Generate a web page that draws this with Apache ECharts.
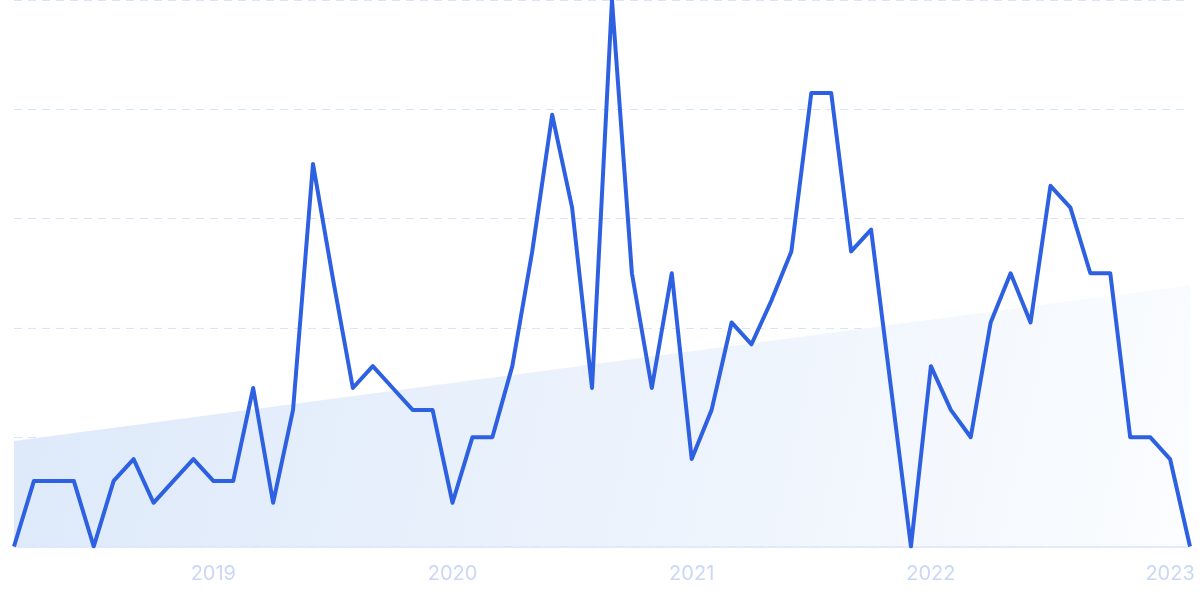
<!DOCTYPE html>
<html>
<head>
<meta charset="utf-8">
<script src="https://cdn.jsdelivr.net/npm/echarts@6/dist/echarts.min.js"></script>
<style>
html,body{margin:0;padding:0;background:#fff;}
#chart{width:1200px;height:599px;}
</style>
</head>
<body>
<div id="chart"></div>
<script>
// Months from 2018-03 to 2023-02
const months = [
  '2018-03','2018-04','2018-05','2018-06','2018-07','2018-08','2018-09','2018-10','2018-11','2018-12',
  '2019-01','2019-02','2019-03','2019-04','2019-05','2019-06','2019-07','2019-08','2019-09','2019-10','2019-11','2019-12',
  '2020-01','2020-02','2020-03','2020-04','2020-05','2020-06','2020-07','2020-08','2020-09','2020-10','2020-11','2020-12',
  '2021-01','2021-02','2021-03','2021-04','2021-05','2021-06','2021-07','2021-08','2021-09','2021-10','2021-11','2021-12',
  '2022-01','2022-02','2022-03','2022-04','2022-05','2022-06','2022-07','2022-08','2022-09','2022-10','2022-11','2022-12',
  '2023-01','2023-02'
];
const interest = [
  0,12,12,12,0,12,16,8,12,16,
  12,12,29,8,25,70,49,29,33,29,25,25,
  8,20,20,33,54,79,62,29,100,50,29,50,
  16,25,41,37,45,54,83,83,54,58,29,0,
  33,25,20,41,50,41,66,62,50,50,20,20,
  16,0
];
// Trend area end values (start and end of series)
const trendStart = 19.3;
const trendEnd = 47.8;
const yTicks = [0,20,40,60,80,100];

const chart = echarts.init(document.getElementById('chart'));
chart.setOption({
  animation: false,
  grid: { left: 14, right: 10, top: 0, bottom: 52.5 },
  xAxis: [{
    type: 'category',
    data: months,
    boundaryGap: false,
    axisLine: { show: true, lineStyle: { color: '#d6e3fb', width: 1.5 } },
    axisTick: { show: false },
    axisLabel: {
      interval: function (i, v) { return v.slice(5) === '01'; },
      formatter: function (v) { return v.slice(0, 4); },
      color: '#cbd7f6',
      fontSize: 20,
      fontFamily: 'Inter, "Noto Sans", sans-serif',
      margin: 17
    },
    splitLine: { show: false }
  }, {
    type: 'value',
    min: 0,
    max: months.length - 1,
    show: false
  }],
  yAxis: {
    type: 'value',
    min: yTicks[0],
    max: yTicks[yTicks.length - 1],
    interval: 20,
    axisLine: { show: false },
    axisTick: { show: false },
    axisLabel: { show: false },
    splitLine: { show: true, lineStyle: { color: '#d8e4fc', type: [8, 6], width: 1.2 } }
  },
  series: [{
    type: 'line',
    xAxisIndex: 1,
    data: [[0, trendStart], [months.length - 1, trendEnd]],
    symbol: 'none',
    lineStyle: { width: 0, opacity: 0 },
    areaStyle: {
      opacity: 1,
      color: new echarts.graphic.LinearGradient(0, 0, 1, 1, [
        { offset: 0, color: '#dde9fa' },
        { offset: 0.5, color: '#ebf2fc' },
        { offset: 1, color: '#fbfdff' }
      ])
    },
    z: 1
  }, {
    type: 'line',
    data: interest,
    symbol: 'none',
    lineStyle: { color: '#2d61e1', width: 4, join: 'round' },
    z: 3
  }]
});
</script>
</body>
</html>
